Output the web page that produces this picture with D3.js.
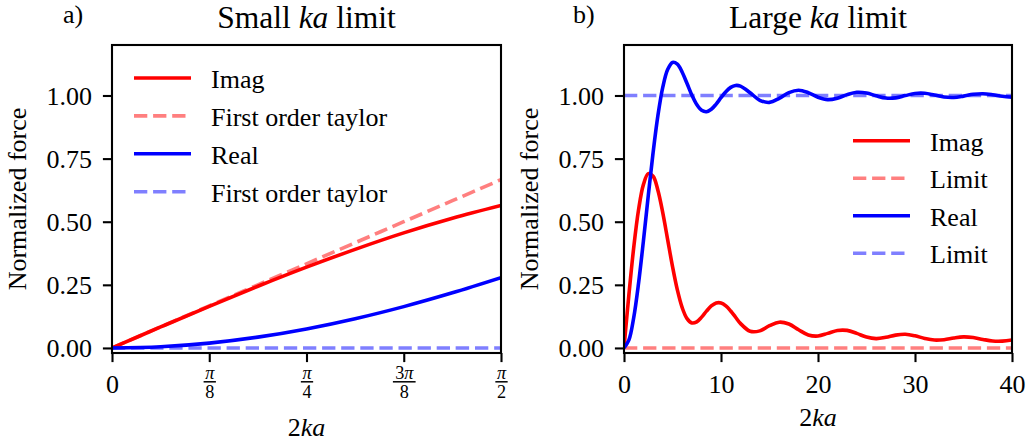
<!DOCTYPE html>
<html>
<head>
<meta charset="utf-8">
<script src="https://cdn.jsdelivr.net/npm/d3@7"></script>
<style>
  html, body { margin: 0; padding: 0; background: #fff; }
  svg { display: block; }
</style>
</head>
<body>
<svg id="fig" width="1035" height="445" font-family="Liberation Serif"></svg>
<script>
// ---- Small ka panel: piston radiation force for 0 <= 2ka <= pi/2 ----
const smallX = [0, 0.19635, 0.39270, 0.58905, 0.78540, 0.98175, 1.17810, 1.37445, 1.57080];
const smallImag = [0, 0.0831, 0.1650, 0.2443, 0.3199, 0.3906, 0.4559, 0.5137, 0.5644];
const smallImagTaylor = [0, 0.0833, 0.1667, 0.2500, 0.3333, 0.4167, 0.5000, 0.5833, 0.6667];
const smallReal = [0, 0.0048, 0.0192, 0.0428, 0.0752, 0.1157, 0.1637, 0.2183, 0.2783];
const smallRealTaylor = [0, 0, 0, 0, 0, 0, 0, 0, 0];
const smallTickValues = [0, Math.PI / 8, Math.PI / 4, 3 * Math.PI / 8, Math.PI / 2];
const smallTickLabels = ["0", "π/8", "π/4", "3π/8", "π/2"];

// ---- Large ka panel: 0 <= 2ka <= 40 ----
const largeX = [0, 0.5, 1, 1.5, 2, 2.5, 3, 3.5, 4, 4.5, 5, 5.5, 6, 6.5, 7, 7.5, 8, 8.5, 9, 9.5,
  10, 10.5, 11, 11.5, 12, 13, 14, 15, 16, 17, 18, 19, 20, 21, 22, 23, 24, 25, 26, 27, 28, 29, 30,
  31, 32, 33, 34, 35, 36, 37, 38, 39, 40];
const largeImag = [0, 0.2087, 0.3969, 0.5471, 0.6468, 0.6905, 0.6801, 0.6238, 0.5349, 0.4293,
  0.3230, 0.2301, 0.1595, 0.1160, 0.0990, 0.1036, 0.1220, 0.1456, 0.1663, 0.1782,
  0.1784, 0.1668, 0.1464, 0.1216, 0.0973, 0.0662, 0.0676, 0.0881, 0.1021, 0.0948, 0.0719, 0.0515,
  0.0473, 0.0577, 0.0692, 0.0695, 0.0576, 0.0431, 0.0371, 0.0420, 0.0509, 0.0542, 0.0481,
  0.0377, 0.0312, 0.0328, 0.0394, 0.0437, 0.0412, 0.0338, 0.0275, 0.0270, 0.0316];
const largeImagLimit = largeX.map(() => 0);
const largeReal = [0, 0.0308, 0.1198, 0.2561, 0.4233, 0.6023, 0.7739, 0.9215, 1.0330, 1.1027,
  1.1310, 1.1241, 1.0922, 1.0473, 1.0013, 0.9639, 0.9413, 0.9357, 0.9455, 0.9660,
  0.9913, 1.0150, 1.0321, 1.0397, 1.0372, 1.0108, 0.9810, 0.9727, 0.9887, 1.0115, 1.0209, 1.0111,
  0.9933, 0.9837, 0.9894, 1.0034, 1.0128, 1.0100, 0.9988, 0.9899, 0.9907, 0.9995, 1.0079,
  1.0086, 1.0017, 0.9939, 0.9922, 0.9975, 1.0046, 1.0071, 1.0031, 0.9967, 0.9937];
const largeRealLimit = largeX.map(() => 1);
const largeTickValues = [0, 10, 20, 30, 40];

const yTickValues = [0, 0.25, 0.5, 0.75, 1.0];

// ---- shared styling ----
const RED = "#ff0000", BLUE = "#0000ff";
const LW = 3.6;
const DASH = "13.3,5.8";
const FAMILY = "Liberation Serif";
const FONT = 26;
const TITLE_FONT = 31.5;
const TICK_LEN = 9.1;
const SPINE_W = 2.1;

const svg = d3.select("#fig");
const plotTop = 45, plotBottom = 353;
const y = d3.scaleLinear().domain([-0.02, 1.2]).range([plotBottom, plotTop]);

// every text element gets the serif family explicitly
function txt(sel, size) {
  return sel.append("text").attr("font-family", FAMILY).attr("font-size", size).attr("fill", "#000");
}

function drawPanel(cfg) {
  const { left, right, xDomain, idx } = cfg;
  const x = d3.scaleLinear().domain(xDomain).range([left, right]);
  const g = svg.append("g");

  const clipId = "clip" + idx;
  svg.append("defs").append("clipPath").attr("id", clipId)
    .append("rect").attr("x", left).attr("y", plotTop)
    .attr("width", right - left).attr("height", plotBottom - plotTop);

  const line = d3.line()
    .x(d => x(d[0])).y(d => y(d[1]))
    .curve(d3.curveCatmullRom.alpha(0.5));

  const plot = g.append("g").attr("clip-path", `url(#${clipId})`);
  cfg.series.forEach(s => {
    const pts = cfg.xs.map((v, i) => [v, s.values[i]]);
    plot.append("path")
      .attr("d", line(pts))
      .attr("fill", "none")
      .attr("stroke", s.color)
      .attr("stroke-opacity", s.dashed ? 0.5 : 1)
      .attr("stroke-width", LW)
      .attr("stroke-dasharray", s.dashed ? DASH : null)
      .attr("stroke-linecap", "butt");
  });

  // y axis
  const yAxis = d3.axisLeft(y).tickValues(yTickValues)
    .tickFormat(d3.format(".2f")).tickSize(TICK_LEN).tickPadding(11);
  const ya = g.append("g").attr("transform", `translate(${left},0)`).call(yAxis);
  ya.attr("font-family", FAMILY).attr("font-size", FONT);
  ya.select(".domain").remove();
  ya.selectAll(".tick line").attr("stroke", "#000").attr("stroke-width", SPINE_W);
  ya.selectAll(".tick text").attr("font-family", FAMILY).attr("font-size", FONT)
    .attr("fill", "#000").attr("dy", "0.34em");

  // x axis
  const xAxis = d3.axisBottom(x).tickValues(cfg.tickValues).tickSize(TICK_LEN);
  if (cfg.fractionLabels) xAxis.tickFormat(() => "");
  const xa = g.append("g").attr("transform", `translate(0,${plotBottom})`).call(xAxis);
  xa.attr("font-family", FAMILY).attr("font-size", FONT);
  xa.select(".domain").remove();
  xa.selectAll(".tick line").attr("stroke", "#000").attr("stroke-width", SPINE_W);
  if (cfg.fractionLabels) {
    xa.selectAll(".tick text").remove();
    xa.selectAll(".tick").each(function (d, i) {
      const t = d3.select(this);
      const lab = cfg.fractionLabels[i];
      if (lab.indexOf("/") < 0) {
        txt(t, FONT).attr("y", 40).attr("text-anchor", "middle").text(lab);
      } else {
        const [num, den] = lab.split("/");
        const fs = 18.2;
        const numText = txt(t, fs).attr("y", 26).attr("text-anchor", "middle");
        // the digit stays upright, pi is italic
        const m = num.match(/^(\d*)(π)$/);
        if (m && m[1]) numText.append("tspan").text(m[1]);
        numText.append("tspan").attr("font-style", "italic").text("π");
        txt(t, fs).attr("y", 45.3).attr("text-anchor", "middle").text(den);
        const w = num.length > 1 ? 22.7 : 12.3;
        t.append("line").attr("x1", -w / 2).attr("x2", w / 2)
          .attr("y1", 28.8).attr("y2", 28.8)
          .attr("stroke", "#000").attr("stroke-width", 1.5);
      }
    });
  } else {
    xa.selectAll(".tick text").attr("font-family", FAMILY).attr("font-size", FONT)
      .attr("fill", "#000").attr("y", 22).attr("dy", "0.71em");
  }

  // frame
  g.append("rect").attr("x", left).attr("y", plotTop)
    .attr("width", right - left).attr("height", plotBottom - plotTop)
    .attr("fill", "none").attr("stroke", "#000").attr("stroke-width", SPINE_W);

  // title
  const cx = (left + right) / 2;
  const title = txt(g, TITLE_FONT).attr("x", cx).attr("y", 28).attr("text-anchor", "middle");
  title.append("tspan").text(cfg.titleA + " ");
  title.append("tspan").attr("font-style", "italic").text("ka");
  title.append("tspan").text(" " + cfg.titleB);

  // panel tag
  txt(g, FONT).attr("x", cfg.tagX).attr("y", 23).text(cfg.tag);

  // x label
  const xl = txt(g, FONT).attr("x", cx).attr("y", cfg.xLabelY).attr("text-anchor", "middle");
  xl.append("tspan").text("2");
  xl.append("tspan").attr("font-style", "italic").text("ka");

  // y label
  txt(g, FONT)
    .attr("transform", `translate(${left - 86.5},${(plotTop + plotBottom) / 2}) rotate(-90)`)
    .attr("text-anchor", "middle")
    .text("Normalized force");

  // legend
  const lg = g.append("g");
  cfg.series.forEach((s, i) => {
    const ly = cfg.legend.y0 + i * cfg.legend.dy;
    lg.append("line")
      .attr("x1", cfg.legend.x0).attr("x2", cfg.legend.x0 + 57)
      .attr("y1", ly).attr("y2", ly)
      .attr("stroke", s.color).attr("stroke-opacity", s.dashed ? 0.5 : 1)
      .attr("stroke-width", LW).attr("stroke-dasharray", s.dashed ? DASH : null);
    txt(lg, FONT).attr("x", cfg.legend.x0 + 77).attr("y", ly + 10).text(s.name);
  });
}

drawPanel({
  idx: 1, left: 112, right: 501, xDomain: [0, Math.PI / 2],
  xs: smallX, tickValues: smallTickValues, fractionLabels: smallTickLabels,
  titleA: "Small", titleB: "limit", tag: "a)", tagX: 63, xLabelY: 436,
  legend: { x0: 134, y0: 78, dy: 37.9 },
  series: [
    { name: "Imag", values: smallImag, color: RED, dashed: false },
    { name: "First order taylor", values: smallImagTaylor, color: RED, dashed: true },
    { name: "Real", values: smallReal, color: BLUE, dashed: false },
    { name: "First order taylor", values: smallRealTaylor, color: BLUE, dashed: true }
  ]
});

drawPanel({
  idx: 2, left: 624, right: 1012, xDomain: [0, 40],
  xs: largeX, tickValues: largeTickValues, fractionLabels: null,
  titleA: "Large", titleB: "limit", tag: "b)", tagX: 573, xLabelY: 426,
  legend: { x0: 853, y0: 140.7, dy: 37.5 },
  series: [
    { name: "Imag", values: largeImag, color: RED, dashed: false },
    { name: "Limit", values: largeImagLimit, color: RED, dashed: true },
    { name: "Real", values: largeReal, color: BLUE, dashed: false },
    { name: "Limit", values: largeRealLimit, color: BLUE, dashed: true }
  ]
});
</script>
</body>
</html>
